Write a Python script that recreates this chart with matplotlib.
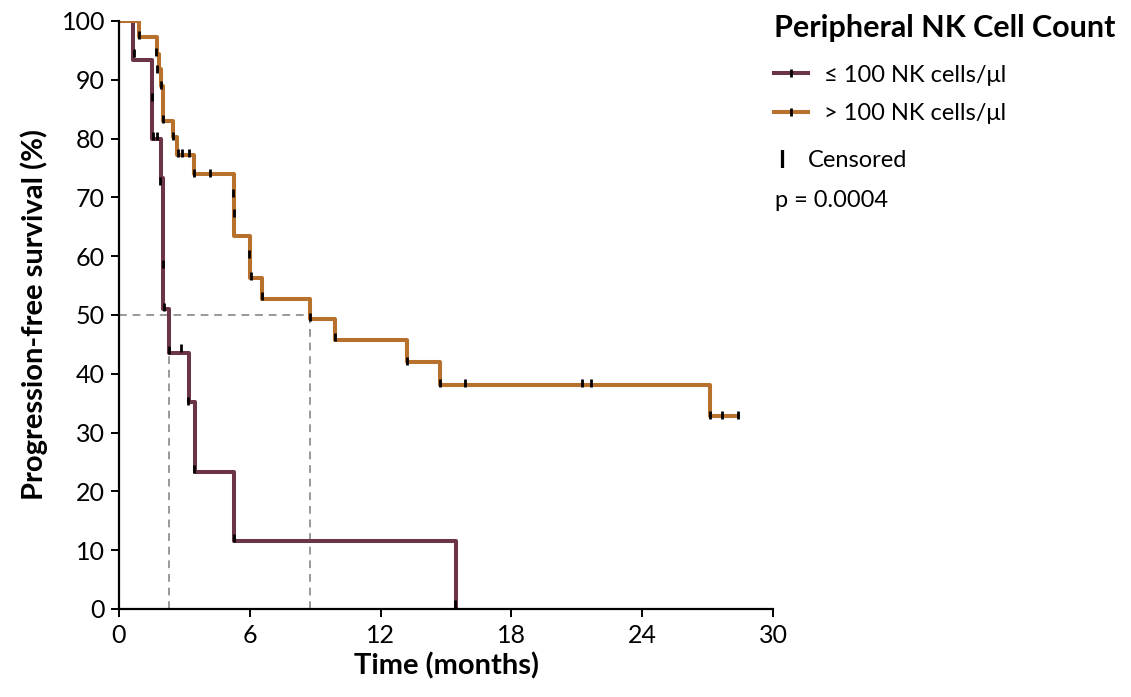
import matplotlib
matplotlib.use("Agg")
import matplotlib.pyplot as plt
from matplotlib.lines import Line2D

plt.rcParams.update({
    "font.family": ["Lato", "DejaVu Sans"],
    "font.size": 18,
    "axes.linewidth": 1.6,
    "xtick.major.width": 1.4,
    "ytick.major.width": 1.4,
    "xtick.major.size": 6,
    "ytick.major.size": 6,
    "xtick.major.pad": 5,
    "ytick.major.pad": 4,
})

# step curves (time in months, survival in %)
low_t = [0, 0.64, 1.53, 1.93, 2.02, 2.30, 3.19, 3.47, 5.29, 15.45]
low_s = [100, 93.3, 80.0, 73.3, 51.1, 43.6, 35.2, 23.3, 11.6, 0]
low_cens_t = [0.67, 1.53, 1.58, 1.73, 1.90, 2.00, 2.05, 2.30, 2.83, 3.15, 3.43, 5.26, 15.42]
low_cens_s = [94.5, 87.0, 80.5, 80.5, 72.8, 58.6, 51.4, 44.0, 44.3, 35.3, 23.8, 12.0, 0.8]

high_t = [0, 0.93, 1.73, 1.82, 1.93, 2.04, 2.50, 2.68, 3.42, 5.29,
          6.01, 6.56, 8.78, 9.90, 13.23, 14.73, 27.13, 28.40]
high_s = [100, 97.2, 94.4, 91.8, 89.0, 83.0, 80.2, 77.2, 73.9, 63.4,
          56.3, 52.8, 49.4, 45.7, 42.0, 38.1, 32.8, 32.8]
high_cens_t = [0.93, 1.69, 1.76, 1.93, 2.04, 2.50, 2.70, 2.90, 3.23, 3.43, 4.18,
               5.23, 5.29, 5.98, 6.06, 6.56, 8.75, 9.89, 13.20, 14.73, 15.86,
               21.26, 21.66, 27.13, 27.68, 28.38]
high_cens_s = [97.7, 94.8, 91.9, 89.1, 83.3, 80.5, 77.6, 77.6, 77.6, 74.2, 74.2,
               70.8, 67.3, 60.3, 56.6, 53.2, 49.7, 46.2, 42.2, 38.4, 38.4,
               38.4, 38.4, 33.0, 33.0, 33.0]

median_low = 2.30
median_high = 8.74

labels = ["\u2264 100 NK cells/\u03bcl", "> 100 NK cells/\u03bcl"]
PURPLE = "#6B3448"
ORANGE = "#B8712D"

fig = plt.figure(figsize=(11.31, 6.97), dpi=100)
ax = fig.add_axes([0.1052, 0.1263, 0.5783, 0.8436])

# median guides
dash = dict(color="#999999", linestyle=(0, (4, 3)), linewidth=1.4, zorder=1)
ax.plot([0, median_high], [50, 50], **dash)
ax.plot([median_low, median_low], [0, 50], **dash)
ax.plot([median_high, median_high], [0, 50], **dash)

ax.step(low_t, low_s, where="post", color=PURPLE, linewidth=2.9, zorder=2)
ax.step(high_t, high_s, where="post", color=ORANGE, linewidth=2.9, zorder=2)
ax.plot(low_cens_t, low_cens_s, linestyle="none", marker="|", color="black",
        markersize=6, markeredgewidth=2.0, zorder=3)
ax.plot(high_cens_t, high_cens_s, linestyle="none", marker="|", color="black",
        markersize=6, markeredgewidth=2.0, zorder=3)

ax.set_xlim(0, 30)
ax.set_ylim(0, 100)
ax.set_xticks(range(0, 31, 6))
ax.set_yticks(range(0, 101, 10))
ax.spines["top"].set_visible(False)
ax.spines["right"].set_visible(False)
ax.set_xlabel("Time (months)", fontsize=21, fontweight="bold", labelpad=4)
ax.set_ylabel("Progression-free survival (%)", fontsize=21, fontweight="bold", labelpad=10)

handles = [
    Line2D([0], [0], color=PURPLE, linewidth=2.9, marker="|", markersize=6,
           markeredgewidth=2.0, markeredgecolor="black"),
    Line2D([0], [0], color=ORANGE, linewidth=2.9, marker="|", markersize=6,
           markeredgewidth=2.0, markeredgecolor="black"),
]
fig.text(0.684, 0.960, "Peripheral NK Cell Count", fontsize=22, fontweight="bold", va="center")
leg = fig.legend(handles, labels, loc="upper left", bbox_to_anchor=(0.676, 0.921),
                 frameon=False, fontsize=17, handlelength=1.45, handletextpad=0.65,
                 labelspacing=0.75, borderaxespad=0)
fig.text(0.688, 0.770, "I", fontsize=17, fontweight="bold", va="center")
fig.text(0.714, 0.770, "Censored", fontsize=17, va="center")
fig.text(0.685, 0.713, "p = 0.0004", fontsize=17, va="center")

fig.savefig("out.png", dpi=100)
